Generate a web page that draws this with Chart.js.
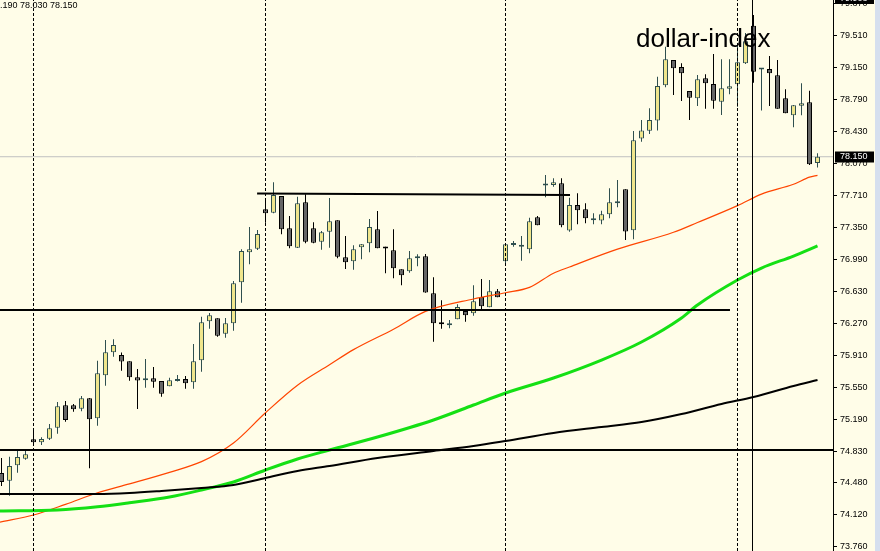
<!DOCTYPE html>
<html><head><meta charset="utf-8">
<script src="https://cdn.jsdelivr.net/npm/chart.js@4.4.1/dist/chart.umd.min.js"></script>
<style>html,body{margin:0;padding:0;background:#FFFDE8;}#wrap{width:880px;height:551px;position:relative}</style>
</head><body><div id="wrap"><canvas id="c" width="880" height="551"></canvas></div>
<script>
// ---- data (USD index, H4 candles) ----
const openP = [
74.592,74.506,74.679,74.753,74.971,74.938,74.978,75.102,75.354,75.354,
75.316,75.433,75.208,75.691,75.950,75.920,75.849,75.669,75.635,75.658,
75.627,75.568,75.627,75.650,75.613,75.860,76.299,76.333,76.159,76.276,
76.738,77.075,77.115,77.559,77.520,77.708,77.345,77.127,77.637,77.345,
77.194,77.307,77.435,77.019,76.974,77.131,77.176,77.334,77.124,77.097,
76.884,76.861,77.007,77.030,76.614,76.288,76.254,76.321,76.415,76.389,
76.572,76.456,76.636,76.974,77.157,77.138,77.109,77.469,77.826,77.832,
77.851,77.320,77.607,77.559,77.436,77.433,77.502,77.626,77.784,77.322,
78.355,78.443,78.558,78.953,79.238,79.159,78.889,78.807,79.032,78.968,
78.769,78.915,78.965,79.201,79.624,79.131,79.137,79.066,78.807,78.616,
78.724,78.762,78.080];
const highP = [
74.761,74.776,74.843,74.840,75.084,74.994,75.144,75.391,75.402,75.369,
75.459,75.436,75.856,76.088,76.096,75.948,75.849,75.762,75.875,75.785,
75.627,75.664,75.695,75.684,76.043,76.351,76.392,76.333,76.336,76.752,
77.109,77.360,77.326,77.652,77.862,77.708,77.483,77.700,77.727,77.412,
77.315,77.686,77.435,77.258,77.154,77.168,77.450,77.540,77.138,77.334,
76.884,77.090,77.052,77.056,76.794,76.535,76.313,76.490,76.415,76.704,
76.775,76.763,76.662,77.174,77.202,77.258,77.464,77.483,77.945,77.907,
77.907,77.689,77.739,77.626,77.514,77.543,77.795,77.888,77.784,78.439,
78.563,78.695,79.050,79.388,79.238,79.201,78.889,79.069,79.077,79.306,
79.246,79.246,79.426,79.542,79.744,79.145,79.283,79.238,78.908,78.732,
78.976,78.893,78.190];
const lowP = [
74.446,74.337,74.596,74.742,74.922,74.907,74.964,75.034,75.169,75.282,
75.286,74.645,75.124,75.574,75.901,75.743,75.631,75.312,75.552,75.552,
75.451,75.568,75.622,75.541,75.541,75.732,76.216,76.126,76.114,76.193,
76.508,76.940,77.101,77.408,77.514,77.277,77.120,77.124,77.176,77.176,
77.104,77.127,77.007,76.887,76.879,76.996,77.075,77.120,76.839,76.782,
76.704,76.846,76.917,76.621,76.069,76.216,76.220,76.321,76.294,76.362,
76.434,76.456,76.569,76.940,77.138,76.980,77.064,77.379,77.694,77.813,
77.356,77.307,77.390,77.401,77.390,77.390,77.457,77.581,77.213,77.221,
78.319,78.406,78.445,78.931,78.844,78.777,78.563,78.721,78.690,78.690,
78.619,78.852,78.713,79.193,78.983,78.670,78.721,78.690,78.639,78.481,
78.616,78.057,78.030];
const closeP = [
74.491,74.671,74.772,74.803,74.938,74.975,75.095,75.343,75.189,75.309,
75.433,75.196,75.714,75.950,76.032,75.847,75.669,75.633,75.658,75.619,
75.484,75.635,75.633,75.601,75.849,76.288,76.366,76.137,76.276,76.726,
77.090,77.109,77.281,77.514,77.720,77.334,77.142,77.626,77.194,77.183,
77.300,77.424,77.025,76.962,77.109,77.165,77.360,77.120,77.117,76.895,
76.816,77.007,77.013,76.623,76.276,76.265,76.276,76.460,76.366,76.524,
76.468,76.636,76.569,77.165,77.159,77.140,77.424,77.379,77.829,77.862,
77.379,77.607,77.547,77.457,77.438,77.504,77.637,77.650,77.309,78.335,
78.445,78.563,78.946,79.246,79.145,79.088,78.814,79.021,78.976,78.780,
78.920,78.942,79.212,79.448,79.106,79.134,79.088,78.690,78.639,78.729,
78.751,78.065,78.150];

// moving averages (read at candle indices; first point at the left edge)
const redIdx   = [-0.19,4,8,12,16,21,25,29,33,37,41,44,49,53,59,63,66,69,71,77,84,87,92,95,99,101,102];
const redVal   = [74.04,74.12,74.24,74.37,74.47,74.60,74.72,74.93,75.27,75.58,75.81,75.98,76.21,76.41,76.55,76.62,76.68,76.84,76.91,77.11,77.30,77.41,77.60,77.73,77.84,77.92,77.94];
const greenIdx = [-0.19,7,12,16,21,25,29,33,37,41,47,54,59,63,69,75,80,85,87,92,95,99,102];
const greenVal = [74.165,74.176,74.213,74.258,74.322,74.401,74.491,74.626,74.750,74.851,74.997,75.189,75.357,75.492,75.661,75.863,76.066,76.336,76.482,76.763,76.898,77.033,77.146];
const blackIdx = [-0.19,12,16,20,25,29,33,37,41,47,54,59,63,69,75,80,85,90,94,99,102];
const blackVal = [74.356,74.356,74.367,74.390,74.424,74.457,74.536,74.615,74.671,74.761,74.840,74.896,74.952,75.042,75.110,75.166,75.256,75.369,75.447,75.571,75.639];

// chart objects
const separatorIdx = [4, 33, 63, 92];
const markerIdx = 93.875;
const trendX = [31.95, 71.06];
const trendY = [77.736, 77.720];
const supportLevel = 76.426;
const supportEndIdx = 91.06;
const lowerLevel = 74.851;
const lastPrice = 78.150;
const topLabelText = "79.908";
const yTickValues = [79.870,79.510,79.150,78.790,78.430,78.070,77.710,77.350,76.990,76.630,76.270,75.910,75.550,75.190,74.830,74.480,74.120,73.760];
const title = "dollar-index";
const ohlcText = "78.190 78.030 78.150";

// ---- layout ----
const X_MIN = -0.1875, X_MAX = 103.9375;
const Y_MAX = 79.913, Y_MIN = 73.715;
const BULL_FILL = '#F0E68C', BULL_LINE = '#2F4F4F', BEAR_FILL = '#666666', BEAR_LINE = '#000000';

const idx = openP.map((_, i) => i);
const isBull = idx.map(i => closeP[i] >= openP[i]);

function hline(y, x0, x1, color, w, dash) {
  return {type:'line', data:[{x:x0,y:y},{x:x1,y:y}], borderColor:color, borderWidth:w, borderDash:dash||[], pointRadius:0, order:0};
}
function vline(x, color, w, dash) {
  return {type:'line', data:[{x:x,y:Y_MIN},{x:x,y:Y_MAX}], borderColor:color, borderWidth:w, borderDash:dash||[], pointRadius:0, order:0};
}

const datasets = [
  {type:'line', data:[{x:X_MIN,y:lastPrice},{x:X_MAX,y:lastPrice}], borderColor:'#C0C0C0', borderWidth:1, pointRadius:0, order:20},
  {type:'bar', data: idx.map(i => ({x:i, y:[lowP[i], highP[i]]})), backgroundColor: idx.map(i => isBull[i] ? BULL_LINE : BEAR_LINE),
    borderWidth:0, barThickness:1, grouped:false, inflateAmount:0, order:12},
  {type:'bar', data: idx.map(i => ({x:i, y:[openP[i], closeP[i]]})), backgroundColor: idx.map(i => isBull[i] ? BULL_FILL : BEAR_FILL),
    borderColor: idx.map(i => isBull[i] ? BULL_LINE : BEAR_LINE), borderWidth:1, borderSkipped:false, barThickness:5, minBarLength:2,
    grouped:false, inflateAmount:0, order:11},
  {type:'line', data: redIdx.map((k,j)=>({x:k,y:redVal[j]})), borderColor:'#FF4500', borderWidth:1.2, pointRadius:0, cubicInterpolationMode:'monotone', order:3},
  {type:'line', data: greenIdx.map((k,j)=>({x:k,y:greenVal[j]})), borderColor:'#14E014', borderWidth:3, pointRadius:0, cubicInterpolationMode:'monotone', order:2},
  {type:'line', data: blackIdx.map((k,j)=>({x:k,y:blackVal[j]})), borderColor:'#000000', borderWidth:2, pointRadius:0, cubicInterpolationMode:'monotone', order:1},
  ...separatorIdx.map(k => vline(k, '#000', 1, [3,2])),
  vline(markerIdx, '#000', 1),
  {type:'line', data: trendX.map((x,j)=>({x:x,y:trendY[j]})), borderColor:'#000', borderWidth:2, pointRadius:0, order:0},
  hline(supportLevel, X_MIN, supportEndIdx, '#000', 2),
  hline(lowerLevel, X_MIN, X_MAX, '#000', 2)
];

const decor = {
  id:'decor',
  beforeDraw(chart){
    const c = chart.ctx;
    c.save();
    c.fillStyle = '#FFFDE8'; c.fillRect(0,0,880,551);
    c.fillStyle = '#D5DFEE'; c.fillRect(875,0,5,551);
    c.restore();
  },
  afterDraw(chart){
    const c = chart.ctx, ys = chart.scales.y;
    c.save();
    // price label boxes
    c.font = '9px "Liberation Sans"';
    c.textBaseline = 'middle'; c.textAlign = 'left';
    const py = ys.getPixelForValue(lastPrice);
    c.fillStyle = '#000'; c.fillRect(835, Math.round(py) - 5.5, 39, 11);
    c.fillStyle = '#fff'; c.fillText(lastPrice.toFixed(3), 840, py);
    c.fillStyle = '#000'; c.fillRect(835, -7, 39, 11);
    c.fillStyle = '#fff'; c.fillText(topLabelText, 840, -1.5);
    // title
    c.fillStyle = '#000';
    c.font = '26px "Liberation Sans"';
    c.textBaseline = 'alphabetic';
    c.fillText(title, 636, 47);
    // OHLC text (clipped at left edge)
    c.font = '9px "Liberation Sans"';
    c.fillStyle = '#000';
    const off = c.measureText('78').width;
    c.fillText(ohlcText, -off, 8);
    c.restore();
  }
};

new Chart(document.getElementById('c'), {
  type:'bar',
  data:{datasets},
  plugins:[decor],
  options:{
    responsive:false, animation:false, devicePixelRatio:1,
    layout:{padding:0},
    plugins:{legend:{display:false}, tooltip:{enabled:false}},
    scales:{
      x:{type:'linear', display:false, min:X_MIN, max:X_MAX, offset:false},
      y:{type:'linear', position:'right', min:Y_MIN, max:Y_MAX,
        afterBuildTicks: s => { s.ticks = yTickValues.map(v => ({value:v})); },
        afterFit: s => { s.width = 47; s.paddingTop = 0; s.paddingBottom = 0; },
        ticks:{autoSkip:false, color:'#000', font:{family:'Liberation Sans', size:9}, padding:3,
          callback: v => Number(v).toFixed(3)},
        grid:{drawOnChartArea:false, drawTicks:true, tickLength:4, color:'#000', lineWidth:1},
        border:{display:true, color:'#000', width:1}
      }
    }
  }
});
</script></body></html>
